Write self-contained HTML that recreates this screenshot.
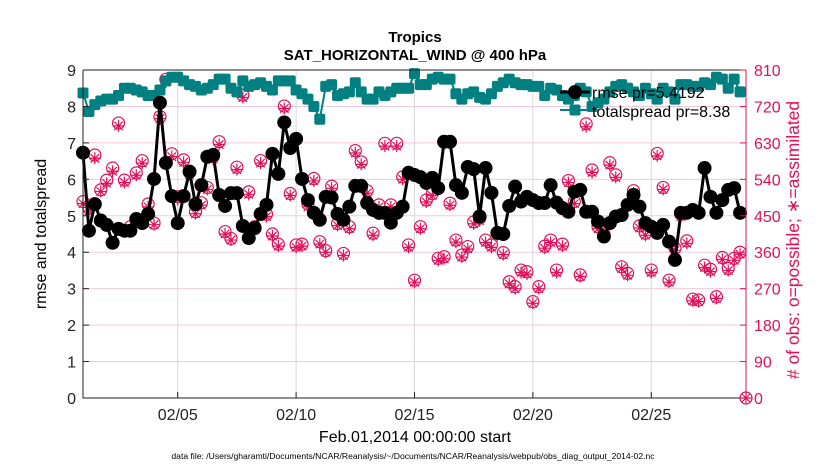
<!DOCTYPE html>
<html><head><meta charset="utf-8">
<style>
body{margin:0;background:#fff;}
svg text{font-family:"Liberation Sans",sans-serif;}
</style></head>
<body>
<svg id="chart" width="830" height="470" xmlns="http://www.w3.org/2000/svg">
<rect width="830" height="470" fill="#fff"/>
<g id="grid"></g>
<g id="marks"></g>
<g id="axes"></g>
<text x="415" y="42" text-anchor="middle" font-size="15" font-weight="bold">Tropics</text>
<text x="415" y="60" text-anchor="middle" font-size="15" font-weight="bold">SAT_HORIZONTAL_WIND @ 400 hPa</text>
<text x="415" y="442" text-anchor="middle" font-size="16">Feb.01,2014 00:00:00 start</text>
<text transform="translate(46,234) rotate(-90)" text-anchor="middle" font-size="16">rmse and totalspread</text>
<text transform="translate(799,240) rotate(-90)" text-anchor="middle" font-size="17.5" fill="#e0105a"># of obs: o=possible; ∗=assimilated</text>
<text x="413" y="459" text-anchor="middle" font-size="8.6">data file: /Users/gharamti/Documents/NCAR/Reanalysis/~/Documents/NCAR/Reanalysis/webpub/obs_diag_output_2014-02.nc</text>
<g id="legend"></g>
</svg>
<script>
const rmse=[6.73,4.59,5.32,4.87,4.75,4.26,4.64,4.59,4.59,4.91,4.80,5.05,6.01,8.10,6.45,5.54,4.80,5.54,6.21,5.32,5.84,6.62,6.67,5.57,5.27,5.62,5.62,4.72,4.39,
4.66,5.05,5.30,6.70,6.15,7.56,6.86,7.11,6.01,5.43,5.08,4.89,5.52,5.50,5.05,4.89,5.25,5.82,5.82,5.35,5.16,5.08,5.08,4.81,5.08,5.25,6.18,
6.12,6.06,5.90,6.04,5.76,7.03,7.03,5.84,5.63,6.34,6.28,4.98,6.31,5.63,4.53,4.50,5.27,5.80,5.39,5.52,5.43,5.35,5.35,5.84,5.36,5.21,5.11,
5.66,5.71,5.11,5.11,4.84,4.43,4.80,4.98,5.02,5.30,5.57,5.25,4.80,4.70,4.53,4.75,4.29,3.79,5.08,5.08,5.16,5.08,6.31,5.52,5.08,5.43,5.71,5.76,5.08];
const spread=[8.37,7.86,8.05,8.15,8.2,8.2,8.3,8.5,8.5,8.45,8.4,8.3,8.3,8.45,8.7,8.8,8.8,8.7,8.6,8.55,8.45,8.5,8.6,8.75,8.75,8.5,8.4,8.7,8.55,
8.6,8.65,8.55,8.45,8.7,8.7,8.7,8.45,8.35,8.2,8.0,7.65,8.55,8.6,8.3,8.35,8.4,8.65,8.4,8.2,8.2,8.4,8.3,8.4,8.5,8.5,8.5,
8.9,8.6,8.6,8.75,8.8,8.75,8.75,8.35,8.2,8.35,8.4,8.25,8.2,8.35,8.55,8.65,8.75,8.65,8.6,8.6,8.55,8.55,8.3,8.5,8.45,8.3,8.2,
8.3,8.5,8.4,8.0,8.1,8.2,8.4,8.55,8.6,8.5,8.4,8.3,8.5,8.35,8.2,8.5,8.4,8.2,8.6,8.6,8.55,8.55,8.65,8.6,8.8,8.75,8.5,8.75,8.4];
const obsPossible=[485,469,600,514,538,568,679,538,423,556,586,479,432,695,787,603,497,588,559,460,482,520,596,633,411,394,570,748,509,
423,586,454,405,380,721,505,378,380,479,542,386,364,523,431,357,423,611,583,512,407,477,629,477,629,546,378,
291,423,489,505,345,349,481,390,353,374,435,444,390,378,407,359,287,275,316,312,238,275,375,390,316,380,537,
485,304,677,563,423,405,581,551,324,308,512,425,407,316,604,520,291,370,454,388,244,242,328,318,250,347,320,345,360,0];
const obsAssimilated=[480,462,592,510,530,560,672,532,418,550,580,472,428,690,780,596,490,582,552,455,476,515,590,626,405,390,564,742,503,
418,580,448,400,375,715,500,372,375,472,536,380,360,518,426,352,418,605,577,506,402,472,622,472,622,540,372,
286,418,484,500,340,344,476,385,348,368,430,438,384,372,402,354,282,270,310,306,234,270,370,384,310,375,532,
480,300,670,557,418,400,575,545,320,303,506,420,402,310,598,515,286,365,448,382,240,238,322,312,246,342,315,340,355,0];
const xTickDays=[4,9,14,19,24];
const xTickLabels=["02/05","02/10","02/15","02/20","02/25"];
const yTicks=[0,1,2,3,4,5,6,7,8,9];
const rTicks=[0,90,180,270,360,450,540,630,720,810];
const NS="http://www.w3.org/2000/svg";
const L=83,R=746,T=70,B=398;
const xs=d=>L+(R-L)*d/28;
const ys=v=>B-(B-T)*v/9;
const yr=v=>B-(B-T)*v/810;
function mk(tag,attrs,parent){const e=document.createElementNS(NS,tag);for(const k in attrs)e.setAttribute(k,attrs[k]);parent.appendChild(e);return e;}
const grid=document.getElementById('grid'),marks=document.getElementById('marks'),axes=document.getElementById('axes'),leg=document.getElementById('legend');
yTicks.forEach(v=>{if(v>0&&v<9){const l=mk('line',{x1:L,x2:R,y1:ys(v),y2:ys(v),stroke:'#f6c8dc','stroke-width':1},grid);

}});
xTickDays.forEach(d=>{const l=mk('line',{x1:xs(d),x2:xs(d),y1:T,y2:B,stroke:'#d8d8d8','stroke-width':1},grid);

});
const C='#e0105a';
obsPossible.forEach((v,i)=>{const c=mk('circle',{cx:xs(i*0.25),cy:yr(v),r:6,fill:'none',stroke:C,'stroke-width':1.2},marks);

});
obsAssimilated.forEach((v,i)=>{const x=xs(i*0.25),y=yr(v);let d='';for(let a=0;a<4;a++){const t=a*Math.PI/4+Math.PI/2;d+=`M${x-6*Math.cos(t)} ${y-6*Math.sin(t)}L${x+6*Math.cos(t)} ${y+6*Math.sin(t)}`;}
const p=mk('path',{d:d,stroke:C,'stroke-width':1.2,fill:'none'},marks);

});
const sp=mk('polyline',{points:spread.map((v,i)=>xs(i*0.25)+','+ys(v)).join(' '),fill:'none',stroke:'#008080','stroke-width':2},marks);


spread.forEach((v,i)=>{const r=mk('rect',{x:xs(i*0.25)-5.5,y:ys(v)-5.5,width:11,height:11,rx:2,fill:'#008080'},marks);

});
const rl=mk('polyline',{points:rmse.map((v,i)=>xs(i*0.25)+','+ys(v)).join(' '),fill:'none',stroke:'#000','stroke-width':3},marks);


rmse.forEach((v,i)=>{const c=mk('circle',{cx:xs(i*0.25),cy:ys(v),r:7,fill:'#000'},marks);

});
const box=mk('path',{d:`M${L} ${T}H${R}M${L} ${T}V${B}H${R}`,stroke:'#222','stroke-width':1,fill:'none'},axes);


const ra=mk('line',{x1:R,x2:R,y1:T,y2:B,stroke:C,'stroke-width':1},axes);


yTicks.forEach(v=>{const y=ys(v);mk('line',{x1:L,x2:L+6,y1:y,y2:y,stroke:'#222'},axes);
const t=mk('text',{x:L-7,y:y+6,'text-anchor':'end','font-size':16,fill:'#222'},axes);t.textContent=v;

});
rTicks.forEach(v=>{const y=yr(v);mk('line',{x1:R-6,x2:R,y1:y,y2:y,stroke:C},axes);
const t=mk('text',{x:R+8,y:y+6,'font-size':16,fill:C},axes);t.textContent=v;

});
xTickDays.forEach((d,i)=>{const x=xs(d);mk('line',{x1:x,x2:x,y1:B,y2:B-6,stroke:'#222'},axes);
const t=mk('text',{x:x,y:B+22,'text-anchor':'middle','font-size':16,fill:'#222'},axes);t.textContent=xTickLabels[i];

});
const l1=mk('line',{x1:560,x2:590,y1:92,y2:92,stroke:'#000','stroke-width':3},leg);


const l1c=mk('circle',{cx:575,cy:92,r:7,fill:'#000'},leg);


const t1=mk('text',{x:592,y:98,'font-size':16},leg);t1.textContent='rmse pr=5.4192';


const l2=mk('line',{x1:560,x2:590,y1:110,y2:110,stroke:'#008080','stroke-width':2},leg);


const l2r=mk('rect',{x:569.5,y:104.5,width:11,height:11,rx:2,fill:'#008080'},leg);


const t2=mk('text',{x:592,y:117,'font-size':16},leg);t2.textContent='totalspread pr=8.38';


</script>
</body></html>
